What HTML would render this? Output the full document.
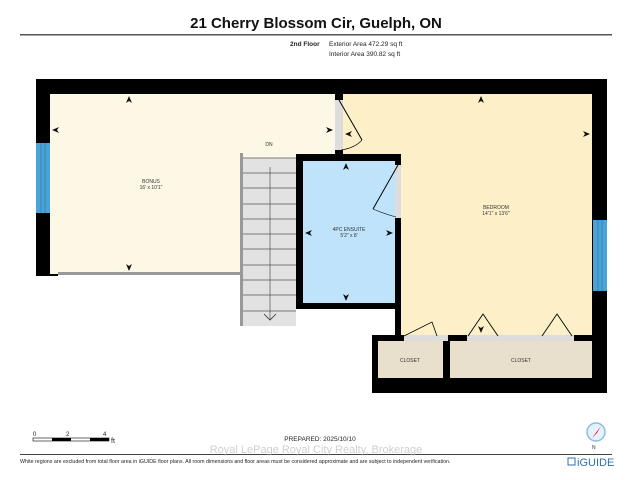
<!DOCTYPE html>
<html><head><meta charset="utf-8"><style>
html,body{margin:0;padding:0;background:#fff;width:632px;height:480px;overflow:hidden}
svg{display:block}
text{font-family:"Liberation Sans",Arial,sans-serif}
</style></head><body>
<svg width="632" height="480" viewBox="0 0 632 480" xmlns="http://www.w3.org/2000/svg">
<text x="316" y="28" font-size="15" font-weight="bold" text-anchor="middle" fill="#111">21 Cherry Blossom Cir, Guelph, ON</text>
<rect x="20" y="34" width="592" height="1.5" fill="#555"/>
<text x="290" y="46" font-size="6.5" font-weight="bold" fill="#222">2nd Floor</text>
<text x="329" y="46" font-size="6.5" fill="#222">Exterior Area 472.29 sq ft</text>
<text x="329" y="56" font-size="6.5" fill="#222">Interior Area 390.82 sq ft</text>

<!-- outer walls -->
<rect x="36" y="79" width="571" height="15" fill="#000"/>
<rect x="36" y="79" width="14" height="197" fill="#000"/>
<rect x="36" y="262" width="22" height="14" fill="#000"/>
<rect x="592" y="79" width="15" height="314" fill="#000"/>
<rect x="372" y="335" width="235" height="58" fill="#000"/>
<!-- bonus -->
<rect x="50" y="94" width="285" height="180" fill="#fdf8e6"/>
<rect x="58" y="272" width="182" height="3" fill="#999"/>
<!-- bedroom -->
<rect x="343" y="94" width="249" height="62" fill="#fdf0c8"/>
<rect x="401" y="154" width="191" height="181" fill="#fdf0c8"/>
<!-- divider wall bonus/bedroom -->
<rect x="335" y="94" width="8" height="60" fill="#000"/>
<rect x="335" y="100" width="8" height="50" fill="#ddd"/>
<path d="M339 100 L362 140" stroke="#000" stroke-width="1" fill="none"/>
<path d="M341 150 Q355 148 362 140" stroke="#000" stroke-width="0.6" fill="none"/>
<!-- ensuite -->
<rect x="296" y="154" width="105" height="155" fill="#000"/>
<rect x="303" y="161" width="92" height="142" fill="#bfe3fb"/>
<rect x="395" y="165" width="6" height="53" fill="#ddd"/>
<rect x="395" y="218" width="6" height="120" fill="#000"/>
<path d="M398 165 L373 209" stroke="#000" stroke-width="1" fill="none"/>
<path d="M373 209 Q385 214 396 217" stroke="#000" stroke-width="0.6" fill="none"/>
<!-- stairs -->
<rect x="240" y="153" width="3" height="173" fill="#999"/>
<rect x="243" y="158" width="53" height="168" fill="#e2e2e2"/>
<g stroke="#555" stroke-width="0.7">
<line x1="243" y1="158" x2="296" y2="158"/>
<line x1="243" y1="173" x2="296" y2="173"/><line x1="243" y1="188" x2="296" y2="188"/>
<line x1="243" y1="204" x2="296" y2="204"/><line x1="243" y1="219" x2="296" y2="219"/>
<line x1="243" y1="234" x2="296" y2="234"/><line x1="243" y1="249" x2="296" y2="249"/>
<line x1="243" y1="265" x2="296" y2="265"/><line x1="243" y1="280" x2="296" y2="280"/>
<line x1="243" y1="295" x2="296" y2="295"/><line x1="243" y1="311" x2="296" y2="311"/>
<line x1="270" y1="167" x2="270" y2="320"/>
</g>
<path d="M264 314 L270 320 L276 314" stroke="#333" stroke-width="0.8" fill="none"/>
<!-- closets -->
<rect x="378" y="341" width="65" height="37" fill="#e8dfcc"/>
<rect x="450" y="341" width="142" height="37" fill="#e8dfcc"/>
<rect x="404" y="335" width="44" height="6" fill="#ddd"/>
<rect x="467" y="335" width="107" height="6" fill="#ddd"/>
<path d="M404 336 L432 322 L437 336" stroke="#000" stroke-width="0.8" fill="none"/>
<path d="M468 336 L483 314 L498 336 M542 336 L557 314 L572 336" stroke="#000" stroke-width="0.9" fill="none"/>
<!-- windows -->
<rect x="36" y="143" width="14" height="70" fill="#4aa3d8"/>
<line x1="41" y1="143" x2="41" y2="213" stroke="#2c6f9e" stroke-width="0.6"/><line x1="45" y1="143" x2="45" y2="213" stroke="#2c6f9e" stroke-width="0.6"/>
<rect x="593" y="220" width="14" height="71" fill="#4aa3d8"/>
<line x1="598" y1="220" x2="598" y2="291" stroke="#2c6f9e" stroke-width="0.6"/><line x1="602" y1="220" x2="602" y2="291" stroke="#2c6f9e" stroke-width="0.6"/>
<!-- arrows -->
<g fill="#111">
<path d="M129 96 l-3 7 l3 -2 l3 2z"/><path d="M129 271 l-3 -7 l3 2 l3 -2z"/>
<path d="M52 130 l7 -3 l-2 3 l2 3z"/><path d="M333 130 l-7 -3 l2 3 l-2 3z"/>
<path d="M481 96 l-3 7 l3 -2 l3 2z"/><path d="M590 134 l-7 -3 l2 3 l-2 3z"/>
<path d="M345 134 l7 -3 l-2 3 l2 3z"/>
<path d="M346 163 l-3 7 l3 -2 l3 2z"/><path d="M346 301 l-3 -7 l3 2 l3 -2z"/>
<path d="M305 233 l7 -3 l-2 3 l2 3z"/><path d="M393 233 l-7 -3 l2 3 l-2 3z"/>
<path d="M481 333 l-3 -7 l3 2 l3 -2z"/>
</g>
<g font-size="5" fill="#333" text-anchor="middle">
<text x="269" y="146">DN</text>
<text x="151" y="183">BONUS</text><text x="151" y="189">16' x 10'1"</text>
<text x="349" y="231">4PC ENSUITE</text><text x="349" y="237">5'2" x 8'</text>
<text x="496" y="209">BEDROOM</text><text x="496" y="215">14'1" x 13'6"</text>
<text x="410" y="362">CLOSET</text><text x="521" y="362">CLOSET</text>
</g>
<!-- footer -->
<g font-size="6" fill="#222"><text x="33" y="436">0</text><text x="66" y="436">2</text><text x="103" y="436">4</text><text x="111" y="443" font-size="7">ft</text></g>
<rect x="33" y="438" width="76" height="3" fill="#fff" stroke="#000" stroke-width="0.6"/>
<rect x="52" y="438" width="19" height="3" fill="#000"/><rect x="90" y="438" width="19" height="3" fill="#000"/>
<text x="320" y="441" font-size="6.5" fill="#222" text-anchor="middle">PREPARED: 2025/10/10</text>
<rect x="20" y="454" width="592" height="1" fill="#444"/>
<text x="316" y="453" font-size="11" fill="#bbb" text-anchor="middle" opacity="0.7">Royal LePage Royal City Realty, Brokerage</text>
<text x="20" y="463" font-size="5.3" fill="#222">White regions are excluded from total floor area in iGUIDE floor plans. All room dimensions and floor areas must be considered approximate and are subject to independent verification.</text>
<circle cx="596" cy="432" r="9" fill="#e6f2fb" stroke="#8bbce0" stroke-width="1.5"/>
<path d="M601 426 L592 438 L597 433z" fill="#e02020"/>
<text x="592" y="449" font-size="5" fill="#333">N</text>
<rect x="568" y="458" width="7" height="7" fill="none" stroke="#2d6fae" stroke-width="1"/>
<text x="577" y="466" font-size="11" fill="#2d6fae">iGUIDE</text>
</svg>
</body></html>
